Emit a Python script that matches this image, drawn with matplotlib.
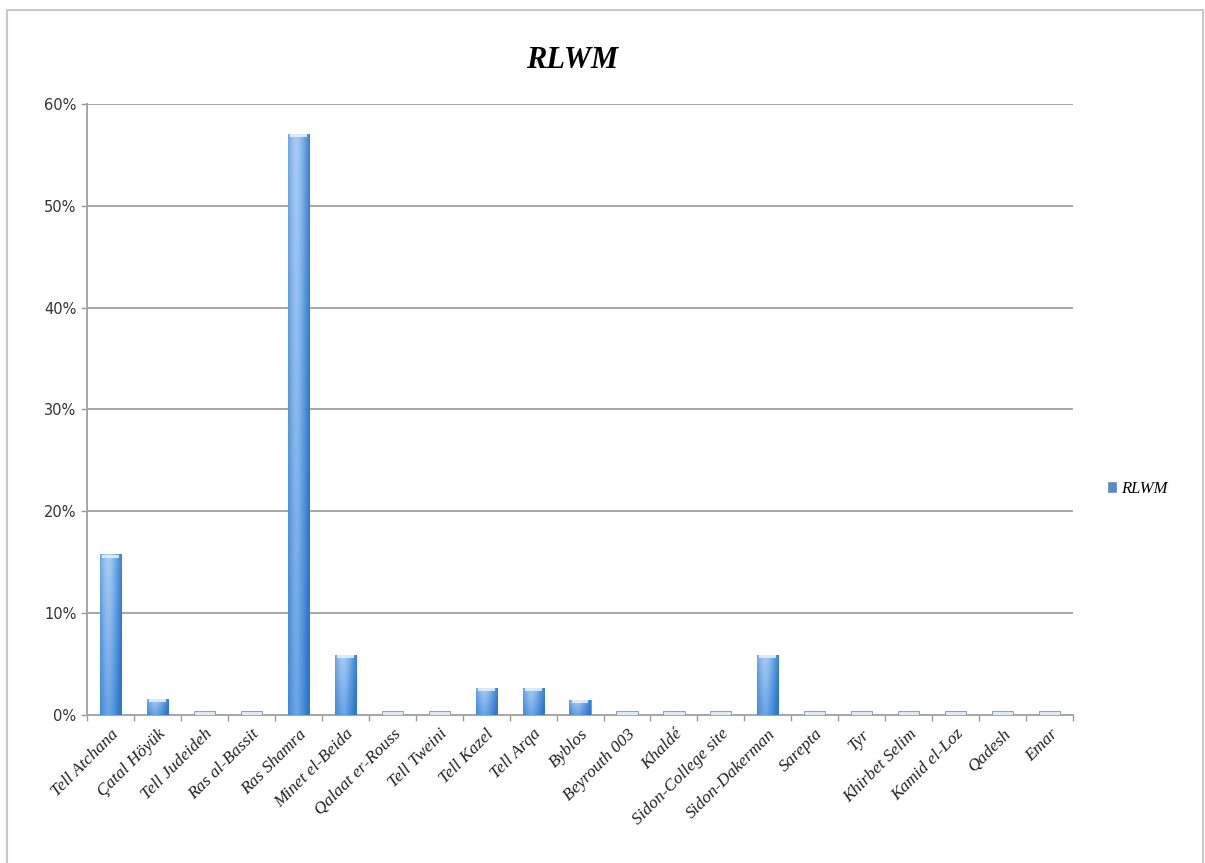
import numpy as np
import matplotlib
matplotlib.use("Agg")
import matplotlib.pyplot as plt
from matplotlib.colors import LinearSegmentedColormap
from matplotlib.patches import Rectangle

sites = ["Tell Atchana", "Çatal Höyük", "Tell Judeideh", "Ras al-Bassit", "Ras Shamra",
         "Minet el-Beida", "Qalaat er-Rouss", "Tell Tweini", "Tell Kazel", "Tell Arqa",
         "Byblos", "Beyrouth 003", "Khaldé", "Sidon-College site", "Sidon-Dakerman",
         "Sarepta", "Tyr", "Khirbet Selim", "Kamid el-Loz", "Qadesh", "Emar"]
rlwm = [15.8, 1.6, 0.4, 0.4, 57.1, 5.9, 0.4, 0.4, 2.7, 2.7,
        1.5, 0.4, 0.4, 0.4, 5.9, 0.4, 0.4, 0.4, 0.4, 0.4, 0.4]
yticks = [0, 10, 20, 30, 40, 50, 60]

serif = "Liberation Serif"

fig = plt.figure(figsize=(12.05, 8.63), dpi=100)
fig.patches.append(Rectangle((0.006, -0.01), 0.992, 0.998, transform=fig.transFigure,
                             fill=False, edgecolor="#c8c8c8", linewidth=1.5))
ax = fig.add_axes([0.0722, 0.1715, 0.8183, 0.708])

x = np.arange(len(sites))
bars = ax.bar(x, rlwm, width=0.45, color="#4a8fd8", zorder=3, label="RLWM")

# gradient fill: lighter in the middle/top, darker at edges/bottom
cmap = LinearSegmentedColormap.from_list("blu", ["#2f78cc", "#5b9be0", "#a8cbf3"])
h = np.linspace(-1, 1, 60)
v = np.linspace(0, 1, 100)[:, None]
grad = (1 - np.abs(h + 0.25) ** 1.6)[None, :] * 0.6 + v * 0.4
for b in bars:
    bx, by, bw, bh = b.get_x(), b.get_y(), b.get_width(), b.get_height()
    im = ax.imshow(grad, extent=(bx, bx + bw, by, by + bh), origin="lower",
                   aspect="auto", cmap=cmap, zorder=3, vmin=0, vmax=1)
    im.set_clip_path(b)
    if bh > 1:
        ax.add_patch(Rectangle((bx + bw * 0.1, by + bh - 0.35), bw * 0.8, 0.3,
                               facecolor="#e3effc", edgecolor="none", alpha=0.9, zorder=4))
    else:
        b.set_facecolor("#dfe9f5")
        im.set_visible(False)
    b.set_edgecolor("#7f93ab")
    b.set_linewidth(0.6)

ax.set_xlim(-0.5, len(sites) - 0.5)
ax.set_ylim(0, 60)
ax.set_yticks(yticks)
ax.set_yticklabels([f"{t}%" for t in yticks], fontsize=10.5, color="#333333",
                   family="DejaVu Sans")
ax.yaxis.grid(True, color="#a6a6a6", linewidth=1.4, zorder=0)
ax.set_axisbelow(True)

ax.set_xticks(x)
ax.set_xticklabels(sites, rotation=45, ha="right", rotation_mode="anchor",
                   fontsize=12.5, family=serif, style="italic", color="#222222")
ax.tick_params(axis="x", length=0, pad=8)
ax.set_xticks(np.arange(-0.5, len(sites)), minor=True)
ax.tick_params(axis="x", which="minor", length=4, color="#999999", width=1)
ax.tick_params(axis="y", length=4, color="#999999", width=1)

for s in ["top", "right"]:
    ax.spines[s].set_visible(False)
for s in ["left", "bottom"]:
    ax.spines[s].set_color("#a6a6a6")
    ax.spines[s].set_linewidth(1.4)

fig.text(0.475, 0.93, "RLWM", ha="center", va="center", fontsize=22,
         family=serif, style="italic", weight="bold")

leg = ax.legend(loc="center left", bbox_to_anchor=(1.02, 0.37), frameon=False,
                prop={"family": serif, "style": "italic", "size": 12},
                handlelength=0.5, handleheight=0.5, handletextpad=0.3)

fig.savefig("out.png", dpi=100)
